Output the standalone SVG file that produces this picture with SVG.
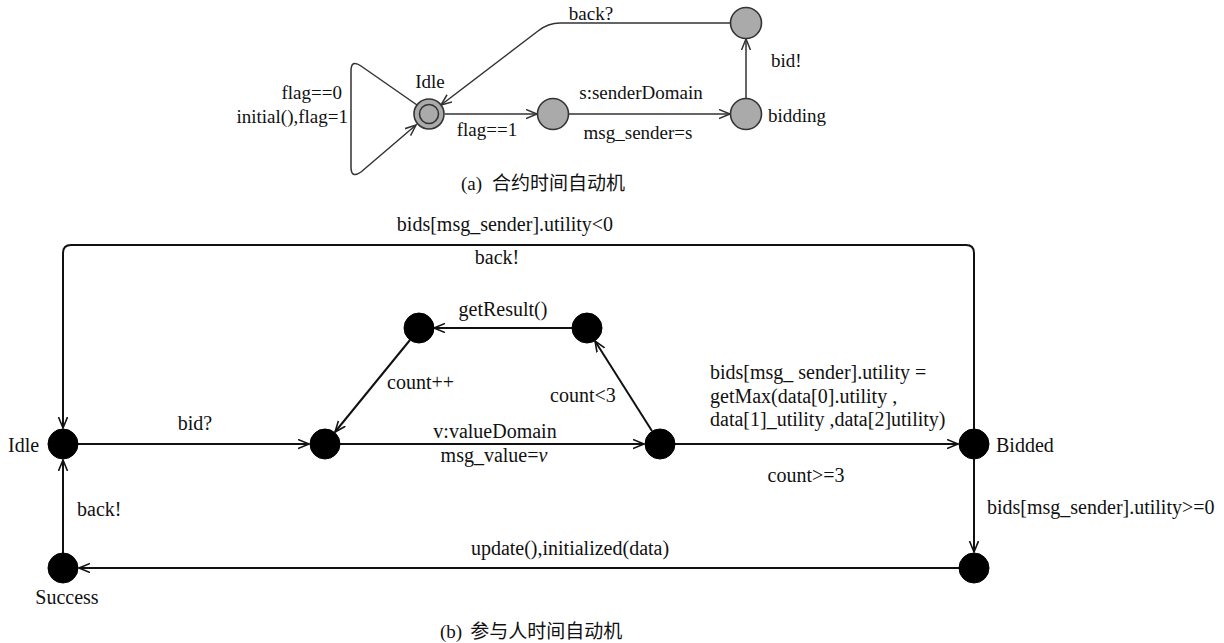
<svg xmlns="http://www.w3.org/2000/svg" width="1224" height="643" viewBox="0 0 1224 643">
<defs>
<style>
text{font-family:"Liberation Serif","Times New Roman",serif;fill:#111;}
.ta{font-size:19px;}
.tb{font-size:20px;}
.cap{font-family:"Liberation Serif","Noto Sans CJK SC",serif;font-size:19px;}
.ea{fill:none;stroke:#333;stroke-width:1.5;}
.eb{fill:none;stroke:#111;stroke-width:2;}
.na{fill:#aaaaaa;stroke:#333;stroke-width:1.6;}
.nb{fill:#000;stroke:#000;stroke-width:1;}
</style>
<marker id="arA" markerUnits="userSpaceOnUse" markerWidth="14" markerHeight="12" refX="11" refY="5" orient="auto">
<path d="M0,0.5 L11,5 L0,9.5" fill="none" stroke="#333" stroke-width="1.5"/>
</marker>
<marker id="arB" markerUnits="userSpaceOnUse" markerWidth="14" markerHeight="12" refX="11" refY="5" orient="auto">
<path d="M0,0.5 L11,5 L0,9.5" fill="none" stroke="#111" stroke-width="1.6"/>
</marker>
</defs>
<rect width="1224" height="643" fill="#fff"/>

<!-- (a) contract automaton -->
<g id="edges-a">
<path class="ea" d="M417,105 L361,66 Q351,59 351,71 L351,167 Q351,179 361,172 L416,125" marker-end="url(#arA)"/>
<path class="ea" d="M730,23 L560,23 Q548,23 538,31 L441,105" marker-end="url(#arA)"/>
<path class="ea" d="M445,114 L537,114" marker-end="url(#arA)"/>
<path class="ea" d="M569,114 L730,114" marker-end="url(#arA)"/>
<path class="ea" d="M746,98 L746,39" marker-end="url(#arA)"/>
<text class="ta" x="342" y="99" text-anchor="end">flag==0</text>
<text class="ta" x="348" y="123" text-anchor="end">initial(),flag=1</text>
<text class="ta" x="591" y="20" text-anchor="middle">back?</text>
<text class="ta" x="487" y="136" text-anchor="middle">flag==1</text>
<text class="ta" x="641" y="99" text-anchor="middle">s:senderDomain</text>
<text class="ta" x="638" y="139" text-anchor="middle">msg_sender=s</text>
<text class="ta" x="771" y="67">bid!</text>
</g>
<g id="a-idle">
<circle class="na" cx="429" cy="114" r="15"/>
<circle cx="429" cy="114" r="9.5" fill="none" stroke="#333" stroke-width="1.6"/>
<text class="ta" x="430" y="88" text-anchor="middle">Idle</text>
</g>
<g id="a-n2"><circle class="na" cx="553" cy="114" r="15.5"/></g>
<g id="a-bidding">
<circle class="na" cx="746" cy="114" r="15.5"/>
<text class="ta" x="768" y="122">bidding</text>
</g>
<g id="a-top"><circle class="na" cx="746" cy="23" r="15.5"/></g>
<text class="cap" x="461" y="190">(a)<tspan dx="10">合约时间自动机</tspan></text>

<!-- (b) participant automaton -->
<g id="edges-b">
<path class="eb" d="M974,429 L974,253 Q974,245 966,245 L71,245 Q63,245 63,253 L63,428" marker-end="url(#arB)"/>
<path class="eb" d="M78,444 L309,444" marker-end="url(#arB)"/>
<path class="eb" d="M340,444 L644,444" marker-end="url(#arB)"/>
<path class="eb" d="M675,444 L958,444" marker-end="url(#arB)"/>
<path class="eb" d="M652,431 L595,341" marker-end="url(#arB)"/>
<path class="eb" d="M572,328 L434,328" marker-end="url(#arB)"/>
<path class="eb" d="M410,340 L335,432" marker-end="url(#arB)"/>
<path class="eb" d="M974,459 L974,552" marker-end="url(#arB)"/>
<path class="eb" d="M959,568 L79,568" marker-end="url(#arB)"/>
<path class="eb" d="M63,553 L63,460" marker-end="url(#arB)"/>
<text class="tb" x="505" y="231" text-anchor="middle">bids[msg_sender].utility&lt;0</text>
<text class="tb" x="497" y="264" text-anchor="middle">back!</text>
<text class="tb" x="195" y="430" text-anchor="middle">bid?</text>
<text class="tb" x="503" y="316" text-anchor="middle">getResult()</text>
<text class="tb" x="387" y="389">count++</text>
<text class="tb" x="550" y="402">count&lt;3</text>
<text class="tb" x="495" y="438" text-anchor="middle">v:valueDomain</text>
<text class="tb" x="494" y="462" text-anchor="middle">msg_value=<tspan font-style="italic">v</tspan></text>
<text class="tb" x="710" y="379">bids[msg_ sender].utility =</text>
<text class="tb" x="710" y="403">getMax(data[0].utility ,</text>
<text class="tb" x="710" y="426">data[1]_utility ,data[2]utility)</text>
<text class="tb" x="806" y="482" text-anchor="middle">count&gt;=3</text>
<text class="tb" x="987" y="514">bids[msg_sender].utility&gt;=0</text>
<text class="tb" x="570" y="555" text-anchor="middle">update(),initialized(data)</text>
<text class="tb" x="77" y="516">back!</text>
</g>
<g id="b-idle">
<circle class="nb" cx="63" cy="444" r="15"/>
<text class="tb" x="8" y="452">Idle</text>
</g>
<g id="b-left"><circle class="nb" cx="325" cy="444" r="15"/></g>
<g id="b-right"><circle class="nb" cx="660" cy="444" r="15"/></g>
<g id="b-tl"><circle class="nb" cx="419" cy="328" r="15"/></g>
<g id="b-tr"><circle class="nb" cx="587" cy="328" r="15"/></g>
<g id="b-bidded">
<circle class="nb" cx="974" cy="444" r="15"/>
<text class="tb" x="996" y="452">Bidded</text>
</g>
<g id="b-br"><circle class="nb" cx="974" cy="568" r="15"/></g>
<g id="b-success">
<circle class="nb" cx="63" cy="568" r="15"/>
<text class="tb" x="67" y="604" text-anchor="middle">Success</text>
</g>
<text class="cap" x="440" y="638">(b)<tspan dx="8">参与人时间自动机</tspan></text>
</svg>
